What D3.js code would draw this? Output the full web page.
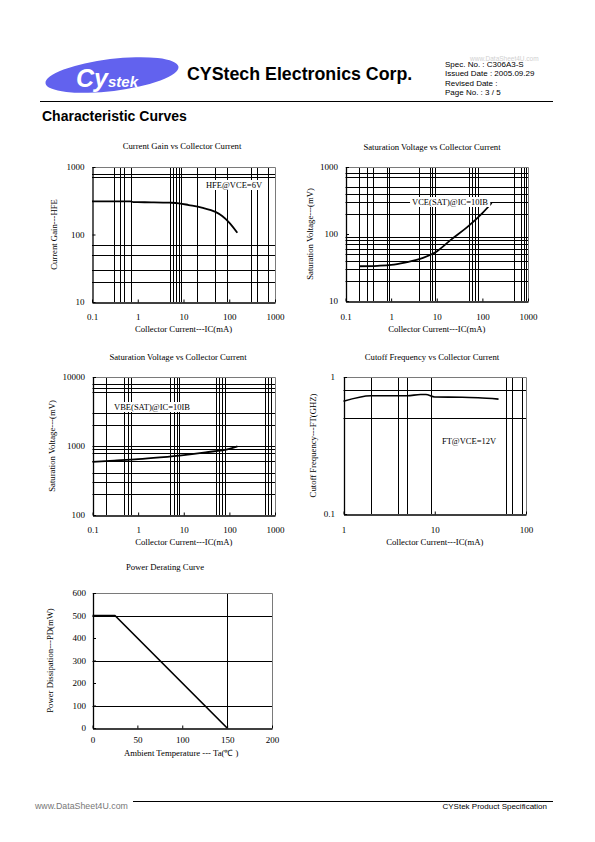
<!DOCTYPE html>
<html><head><meta charset="utf-8">
<script src="https://cdn.jsdelivr.net/npm/d3@7"></script>
<style>
body{margin:0;background:#fff}
svg text{font-family:"Liberation Serif","Times New Roman",serif;fill:#000}
.sans{font-family:"Liberation Sans",Arial,sans-serif !important}
</style>
</head><body>
<svg id="c" width="595" height="842" xmlns="http://www.w3.org/2000/svg"></svg>
<script>
// ---------------- data ----------------
const hfeIc  = [0.1, 0.3, 0.7, 0.8, 1, 2, 5, 8, 13, 25, 50, 70, 100, 150];
const hfeVal = [310, 310, 309, 302, 301, 300, 296, 290, 273, 250, 216, 188, 150, 106];

const vceIc  = [0.2, 0.5, 1, 2, 5, 10, 20, 50, 100, 160];
const vceVal = [33, 33.5, 34.5, 37.5, 44, 55, 81, 132, 205, 290];

const vbeIc  = [0.1, 0.3, 1, 3, 10, 30, 100, 150];
const vbeVal = [590, 615, 645, 685, 740, 810, 910, 990];

const ftIc  = [1, 2, 3, 5, 7, 8, 10, 20, 30, 50];
const ftVal = [0.665, 0.73, 0.73, 0.73, 0.745, 0.745, 0.715, 0.712, 0.705, 0.69];

const pdTemp = [0, 25, 150];
const pdVal  = [500, 500, 0];

// tick values / labels
const icTicks = [0.1, 1, 10, 100, 1000];
const icLabels = ["0.1", "1", "10", "100", "1000"];
const hfeTicks = [10, 100, 1000];
const hfeLabels = ["10", "100", "1000"];
const vceTicks = [10, 100, 1000];
const vceLabels = ["10", "100", "1000"];
const vbeTicks = [100, 1000, 10000];
const vbeLabels = ["100", "1000", "10000"];
const ftIcTicks = [1, 10, 100];
const ftIcLabels = ["1", "10", "100"];
const ftTicks = [0.1, 1];
const ftLabels = ["0.1", "1"];
const tempTicks = [0, 50, 100, 150, 200];
const pdTicks = [0, 100, 200, 300, 400, 500, 600];

// grid lines (as printed)
const hfeGridX = [0.3, 0.4, 0.5, 0.7, 5, 6, 7, 8, 9, 20, 50, 90, 300, 400, 700];
const hfeGridY = [20, 30, 50, 70, 700, 800];
const vceGridX = [0.2, 0.3, 0.4, 0.8, 0.9, 4, 7, 8, 9, 50, 60, 70, 80, 500, 700, 800, 900];
const vceGridY = [20, 30, 40, 50, 60, 70, 80, 90, 200, 300, 400, 500, 700, 800];
const vbeGridX = [0.2, 0.5, 0.6, 0.7, 5, 6, 7, 8, 50, 60, 70, 80, 600, 700, 800];
const vbeGridY = [200, 300, 400, 600, 800, 900, 1000, 2000, 3000, 6000, 7000, 8000];
const ftGridX = [2, 4, 5, 9, 60, 70, 90];
const ftGridY = [0.5, 0.8];
const pdGridX = [150];
const pdGridY = [100, 300, 500];

// ---------------- drawing ----------------
const svg = d3.select("#c");

function drawChart(c) {
  const x = (c.xLog ? d3.scaleLog() : d3.scaleLinear()).domain(c.xDomain).range([c.left, c.right]);
  const y = (c.yLog ? d3.scaleLog() : d3.scaleLinear()).domain(c.yDomain).range([c.bottom, c.top]);
  const g = svg.append("g");

  g.selectAll(".gx").data(c.gridX).join("line")
    .attr("x1", d => Math.round(x(d)) + 0.5).attr("x2", d => Math.round(x(d)) + 0.5)
    .attr("y1", c.top).attr("y2", c.bottom)
    .attr("stroke", "#000").attr("stroke-width", 1);
  g.selectAll(".gy").data(c.gridY).join("line")
    .attr("y1", d => Math.round(y(d)) + 0.5).attr("y2", d => Math.round(y(d)) + 0.5)
    .attr("x1", c.left).attr("x2", c.right)
    .attr("stroke", "#000").attr("stroke-width", 1);

  // plot border (top/right)
  g.append("path")
    .attr("d", `M${c.left},${c.top + 0.5}H${c.right + 0.5}V${c.bottom}`)
    .attr("fill", "none").attr("stroke", "#7a7a7a").attr("stroke-width", 1);

  const ax = d3.axisBottom(x).tickValues(c.xTicks).tickFormat((d, i) => c.xLabels[i])
    .tickSizeInner(-3).tickSizeOuter(0).tickPadding(c.xPad);
  const ay = d3.axisLeft(y).tickValues(c.yTicks).tickFormat((d, i) => c.yLabels[i])
    .tickSizeInner(-3).tickSizeOuter(0).tickPadding(c.yPad);

  const gx = g.append("g").attr("transform", `translate(0,${c.bottom + 0.5})`).call(ax);
  const gyy = g.append("g").attr("transform", `translate(${c.left + 0.5},0)`).call(ay);
  [gx, gyy].forEach(a => {
    a.select(".domain").attr("stroke", "#000").attr("stroke-width", 1.3);
    a.selectAll(".tick line").attr("stroke", "#000");
    a.selectAll("text").attr("font-family", "Liberation Serif").attr("font-size", 9).attr("fill", "#000");
  });

  // curve
  const line = d3.line().x(d => x(d[0])).y(d => y(d[1])).curve(c.curve || d3.curveMonotoneX);
  g.append("path").datum(d3.zip(c.xs, c.ys)).attr("d", line)
    .attr("fill", "none").attr("stroke", "#000").attr("stroke-width", c.lw || 1.8)
    .attr("stroke-linejoin", "round");

  // note
  if (c.note) {
    const ng = g.append("g");
    const r = ng.append("rect").attr("fill", "#fff");
    const t = ng.append("text").attr("x", c.note.x).attr("y", c.note.y)
      .attr("font-size", 8.5).attr("text-anchor", "middle").text(c.note.text);
    const bb = t.node().getBBox();
    r.attr("x", bb.x - 2).attr("y", bb.y).attr("width", bb.width + 4).attr("height", bb.height);
  }

  // titles
  g.append("text").attr("x", c.titleX).attr("y", c.titleY).attr("text-anchor", "middle")
    .attr("font-size", 8.7).text(c.title);
  g.append("text").attr("x", (c.left + c.right) / 2 + (c.xtDx || 0)).attr("y", c.bottom + c.xtDy)
    .attr("text-anchor", "middle").attr("font-size", 8.7).text(c.xTitle);
  g.append("text")
    .attr("transform", `translate(${c.ytX},${(c.top + c.bottom) / 2}) rotate(-90)`)
    .attr("text-anchor", "middle").attr("font-size", 8.7).text(c.yTitle);
}

drawChart({
  left: 92, right: 275, top: 167, bottom: 302,
  xLog: true, yLog: true, xDomain: [0.1, 1000], yDomain: [10, 1000],
  xTicks: icTicks, xLabels: icLabels, yTicks: hfeTicks, yLabels: hfeLabels,
  gridX: hfeGridX, gridY: hfeGridY, xs: hfeIc, ys: hfeVal,
  xPad: 11, yPad: 8,
  note: {x: 234, y: 188, text: "HFE@VCE=6V"},
  title: "Current Gain vs Collector Current", titleX: 182, titleY: 149,
  xTitle: "Collector Current---IC(mA)", xtDy: 30,
  yTitle: "Current Gain---HFE", ytX: 57
});

drawChart({
  left: 345.5, right: 528, top: 167, bottom: 301,
  xLog: true, yLog: true, xDomain: [0.1, 1000], yDomain: [10, 1000],
  xTicks: icTicks, xLabels: icLabels, yTicks: vceTicks, yLabels: vceLabels,
  gridX: vceGridX, gridY: vceGridY, xs: vceIc, ys: vceVal,
  xPad: 12, yPad: 8,
  note: {x: 450, y: 205, text: "VCE(SAT)@IC=10IB"},
  title: "Saturation Voltage vs Collector Current", titleX: 432, titleY: 150,
  xTitle: "Collector Current---IC(mA)", xtDy: 31,
  yTitle: "Saturation Voltage---(mV)", ytX: 313
});

drawChart({
  left: 92.5, right: 275, top: 377, bottom: 515,
  xLog: true, yLog: true, xDomain: [0.1, 1000], yDomain: [100, 10000],
  xTicks: icTicks, xLabels: icLabels, yTicks: vbeTicks, yLabels: vbeLabels,
  gridX: vbeGridX, gridY: vbeGridY, xs: vbeIc, ys: vbeVal,
  xPad: 11, yPad: 8,
  note: {x: 152, y: 410, text: "VBE(SAT)@IC=10IB"},
  title: "Saturation Voltage vs Collector Current", titleX: 178, titleY: 360,
  xTitle: "Collector Current---IC(mA)", xtDy: 30,
  yTitle: "Saturation Voltage---(mV)", ytX: 55
});

drawChart({
  left: 343.5, right: 526, top: 377, bottom: 514,
  xLog: true, yLog: true, xDomain: [1, 100], yDomain: [0.1, 1],
  xTicks: ftIcTicks, xLabels: ftIcLabels, yTicks: ftTicks, yLabels: ftLabels,
  gridX: ftGridX, gridY: ftGridY, xs: ftIc, ys: ftVal, lw: 1.6,
  xPad: 12, yPad: 9,
  note: {x: 469, y: 444, text: "FT@VCE=12V"},
  title: "Cutoff Frequency vs Collector Current", titleX: 432, titleY: 360,
  xTitle: "Collector Current---IC(mA)", xtDy: 31,
  yTitle: "Cutoff Frequency---FT(GHZ)", ytX: 316
});

drawChart({
  left: 92.5, right: 272, top: 593, bottom: 728,
  xLog: false, yLog: false, xDomain: [0, 200], yDomain: [0, 600],
  xTicks: tempTicks, xLabels: tempTicks.map(String), yTicks: pdTicks, yLabels: pdTicks.map(String),
  gridX: pdGridX, gridY: pdGridY, xs: pdTemp, ys: pdVal, curve: d3.curveLinear, lw: 1.7,
  xPad: 8, yPad: 7,
  title: "Power Derating Curve", titleX: 165, titleY: 570,
  xTitle: "Ambient Temperature --- Ta(\u2103 )", xtDy: 27.5, xtDx: -1,
  yTitle: "Power Dissipation---PD(mW)", ytX: 53
});

// ---------------- header / footer ----------------
const hd = svg.append("g");
hd.append("ellipse").attr("cx", 112).attr("cy", 75).attr("rx", 67).attr("ry", 16)
  .attr("transform", "rotate(-7,112,75)").attr("fill", "#6262ee");
const logo = hd.append("text").attr("class", "sans").attr("x", 76).attr("y", 87)
  .attr("font-weight", "bold").attr("font-style", "italic").style("fill", "#fff");
logo.append("tspan").attr("font-size", 25).text("Cy");
logo.append("tspan").attr("font-size", 15).text("stek");

hd.append("text").attr("class", "sans").attr("x", 187).attr("y", 80)
  .attr("font-size", 17.8).attr("font-weight", "bold").text("CYStech Electronics Corp.");

hd.append("text").attr("class", "sans").attr("x", 470).attr("y", 60.5)
  .attr("font-size", 6.5).style("fill", "#d0d0d0").text("www.DataSheet4U.com");
const info = ["Spec. No. : C306A3-S", "Issued Date : 2005.09.29", "Revised Date :", "Page No. : 3 / 5"];
info.forEach((s, i) => hd.append("text").attr("class", "sans").attr("x", 445).attr("y", 67 + i * 9.4)
  .attr("font-size", 8).text(s));

hd.append("line").attr("x1", 40).attr("x2", 553).attr("y1", 101.5).attr("y2", 101.5)
  .attr("stroke", "#000").attr("stroke-width", 1);
hd.append("text").attr("class", "sans").attr("x", 42).attr("y", 121)
  .attr("font-size", 14).attr("font-weight", "bold").text("Characteristic Curves");

hd.append("line").attr("x1", 133).attr("x2", 553).attr("y1", 801.5).attr("y2", 801.5)
  .attr("stroke", "#000").attr("stroke-width", 1);
hd.append("text").attr("class", "sans").attr("x", 35).attr("y", 809)
  .attr("font-size", 8.8).style("fill", "#777").text("www.DataSheet4U.com");
hd.append("text").attr("class", "sans").attr("x", 547).attr("y", 809).attr("text-anchor", "end")
  .attr("font-size", 8).text("CYStek Product Specification");
</script>
</body></html>
